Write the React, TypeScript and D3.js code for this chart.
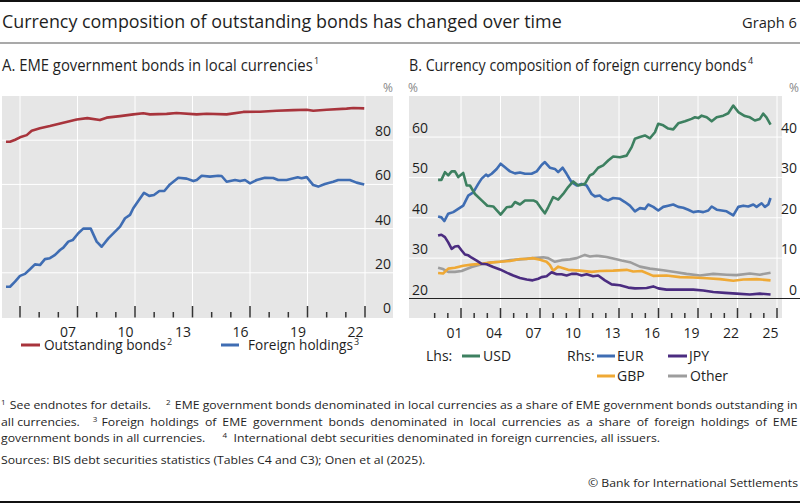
import React, { useLayoutEffect, useRef, useState } from 'react';
import * as d3 from 'd3';

const FONT = "'Open Sans', 'Noto Sans', sans-serif";

// ---------- Panel A data (year, %) ----------
const outstandingBonds: [number, number][] = [
  [2004.27, 79.3], [2004.48, 79.3], [2004.75, 80.2], [2005.0, 81.3], [2005.35, 82.3], [2005.61, 84.3],
  [2006.04, 85.4], [2006.56, 86.4], [2007.26, 87.9], [2007.96, 89.4], [2008.51, 90.0], [2009.17, 89.1],
  [2009.52, 90.2], [2010.22, 90.9], [2010.91, 91.7], [2011.43, 92.2], [2011.78, 91.7], [2012.65, 91.9],
  [2013.17, 92.3], [2014.22, 91.7], [2014.74, 92.0], [2015.78, 91.7], [2016.65, 92.8], [2017.52, 92.9],
  [2018.39, 93.3], [2019.26, 93.6], [2019.96, 93.8], [2020.30, 93.3], [2021.0, 93.8], [2022.04, 94.3],
  [2022.39, 94.6], [2022.96, 94.4],
];
const foreignHoldings: [number, number][] = [
  [2004.27, 13.7], [2004.48, 13.7], [2004.74, 16.0], [2005.0, 18.6], [2005.26, 19.5], [2005.52, 21.6],
  [2005.78, 23.8], [2006.04, 23.5], [2006.30, 26.2], [2006.56, 26.6], [2006.83, 28.1], [2007.09, 30.3],
  [2007.26, 31.4], [2007.52, 34.1], [2007.75, 34.8], [2008.04, 37.9], [2008.30, 40.0], [2008.69, 40.0],
  [2009.0, 34.1], [2009.26, 31.8], [2009.61, 35.6], [2009.96, 38.6], [2010.22, 40.9], [2010.48, 44.7],
  [2010.74, 46.2], [2010.91, 49.2], [2011.17, 52.5], [2011.47, 56.2], [2011.74, 54.8], [2011.99, 55.2],
  [2012.27, 57.0], [2012.53, 57.0], [2012.82, 60.0], [2013.26, 63.0], [2013.70, 62.6], [2014.04, 61.5],
  [2014.22, 62.0], [2014.48, 63.9], [2014.91, 63.5], [2015.34, 63.9], [2015.52, 63.8], [2015.78, 61.2],
  [2016.22, 62.0], [2016.48, 61.5], [2016.74, 62.0], [2017.0, 60.5], [2017.35, 62.0], [2017.78, 63.0],
  [2018.21, 62.9], [2018.47, 62.0], [2018.91, 62.0], [2019.49, 63.2], [2019.69, 62.8], [2019.96, 63.3],
  [2020.30, 59.7], [2020.56, 59.0], [2020.91, 60.2], [2021.34, 61.2], [2021.60, 62.0], [2022.21, 62.0],
  [2022.56, 60.8], [2022.96, 60.0],
];
const yTicksA = [0, 20, 40, 60, 80];
const xLabelsA = ['07', '10', '13', '16', '19', '22'];

// ---------- Panel B data (year, %) ----------
const usd: [number, number][] = [
  [2000.26, 49.4], [2000.51, 49.4], [2000.78, 51.3], [2001.03, 50.5], [2001.29, 51.5], [2001.54, 51.5],
  [2001.79, 50.1], [2002.17, 51.1], [2002.43, 48.0], [2002.68, 48.0], [2003.06, 45.9], [2003.57, 44.3],
  [2004.0, 43.0], [2004.45, 42.8], [2005.01, 40.8], [2005.47, 42.6], [2005.85, 42.8], [2006.10, 43.9],
  [2006.48, 43.3], [2006.86, 44.3], [2007.49, 44.3], [2007.75, 43.9], [2008.12, 42.2], [2008.37, 41.1],
  [2008.62, 42.6], [2009.0, 45.1], [2009.38, 44.5], [2009.76, 45.9], [2010.14, 47.6], [2010.52, 49.0],
  [2010.90, 48.0], [2011.41, 48.4], [2011.79, 50.5], [2012.04, 50.9], [2012.42, 52.4], [2012.80, 53.0],
  [2013.18, 54.2], [2013.56, 55.2], [2014.07, 55.0], [2014.58, 55.4], [2014.96, 57.5], [2015.21, 59.6],
  [2015.59, 60.0], [2015.97, 60.4], [2016.35, 59.7], [2016.73, 61.2], [2016.98, 63.3], [2017.36, 62.9],
  [2017.74, 62.1], [2018.12, 61.9], [2018.50, 63.4], [2019.01, 63.9], [2019.51, 64.5], [2019.77, 64.9],
  [2020.02, 64.7], [2020.28, 65.3], [2020.66, 64.9], [2021.04, 63.9], [2021.42, 64.9], [2021.92, 65.3],
  [2022.30, 65.9], [2022.68, 67.8], [2023.06, 66.2], [2023.56, 65.2], [2023.94, 64.9], [2024.32, 64.1],
  [2024.70, 64.5], [2024.95, 65.8], [2025.20, 64.9], [2025.51, 63.1],
];
const eur: [number, number][] = [
  [2000.26, 20.3], [2000.51, 20.1], [2000.73, 19.2], [2001.03, 21.0], [2001.41, 21.4], [2001.79, 22.2],
  [2002.17, 23.0], [2002.55, 25.5], [2002.93, 26.3], [2003.31, 28.4], [2003.57, 29.7], [2003.90, 30.7],
  [2004.05, 30.3], [2004.33, 30.9], [2004.71, 32.1], [2005.01, 33.4], [2005.34, 32.5], [2005.72, 31.5],
  [2006.10, 31.0], [2006.48, 31.2], [2006.86, 30.9], [2007.36, 30.9], [2007.75, 31.5], [2008.12, 33.1],
  [2008.37, 33.8], [2008.75, 32.4], [2009.13, 32.1], [2009.38, 31.3], [2009.72, 32.4], [2010.02, 30.9],
  [2010.40, 28.8], [2010.78, 28.0], [2011.16, 28.4], [2011.54, 28.0], [2011.92, 25.9], [2012.17, 25.3],
  [2012.55, 25.5], [2012.80, 24.7], [2013.18, 24.3], [2013.56, 24.9], [2014.07, 24.7], [2014.45, 23.9],
  [2014.83, 23.0], [2015.21, 21.6], [2015.59, 22.4], [2015.97, 22.2], [2016.22, 23.3], [2016.60, 22.7],
  [2016.98, 21.8], [2017.36, 22.7], [2017.74, 23.0], [2018.12, 23.3], [2018.50, 22.7], [2018.88, 22.5],
  [2019.26, 22.0], [2019.64, 21.4], [2020.02, 21.6], [2020.40, 21.4], [2020.78, 21.8], [2021.04, 22.8],
  [2021.42, 22.0], [2021.80, 21.8], [2022.17, 21.6], [2022.68, 20.6], [2023.06, 22.7], [2023.44, 23.0],
  [2023.82, 22.8], [2024.20, 23.3], [2024.45, 22.7], [2024.83, 23.6], [2025.08, 22.7], [2025.34, 23.3],
  [2025.51, 24.9],
];
const jpy: [number, number][] = [
  [2000.26, 15.6], [2000.51, 15.8], [2000.78, 15.2], [2001.03, 13.9], [2001.29, 12.3], [2001.54, 12.9],
  [2001.79, 13.0], [2002.05, 11.9], [2002.30, 10.9], [2002.55, 10.7], [2002.81, 10.1], [2003.19, 9.4],
  [2003.57, 8.6], [2003.95, 8.5], [2004.45, 7.8], [2004.96, 7.2], [2005.47, 6.4], [2005.97, 5.7],
  [2006.48, 5.1], [2006.99, 4.7], [2007.44, 4.5], [2007.87, 4.9], [2008.12, 5.3], [2008.50, 5.5],
  [2008.88, 6.5], [2009.26, 6.0], [2009.64, 6.0], [2010.02, 5.7], [2010.40, 6.1], [2010.78, 6.1],
  [2011.16, 5.7], [2011.54, 6.0], [2012.04, 5.5], [2012.42, 5.7], [2012.93, 4.5], [2013.44, 3.5],
  [2014.07, 3.3], [2014.70, 2.7], [2015.21, 2.5], [2016.10, 2.6], [2016.60, 3.0], [2016.98, 2.5],
  [2017.61, 2.2], [2018.88, 2.2], [2019.64, 2.2], [2020.40, 2.0], [2021.16, 1.6], [2022.05, 1.4],
  [2022.93, 1.2], [2023.94, 1.0], [2024.70, 1.2], [2025.51, 1.0],
];
const gbp: [number, number][] = [
  [2000.26, 6.3], [2000.64, 6.2], [2001.03, 7.4], [2001.54, 7.6], [2002.17, 8.1], [2002.81, 8.4],
  [2003.57, 8.6], [2004.2, 8.9], [2004.96, 9.1], [2005.72, 9.3], [2006.48, 9.8], [2006.95, 9.8],
  [2007.44, 10.0], [2008.0, 9.6], [2008.50, 9.1], [2008.75, 8.3], [2009.0, 6.9], [2009.38, 7.9],
  [2009.76, 7.5], [2010.14, 7.1], [2011.03, 6.9], [2011.92, 6.6], [2012.55, 6.8], [2013.56, 6.9],
  [2014.58, 7.1], [2015.08, 6.7], [2015.72, 6.8], [2016.60, 5.6], [2017.61, 5.7], [2018.63, 5.3],
  [2019.64, 5.2], [2020.66, 5.0], [2021.67, 4.8], [2022.68, 4.4], [2023.44, 4.7], [2024.45, 4.8],
  [2025.51, 4.5],
];
const other: [number, number][] = [
  [2000.26, 7.6], [2000.64, 7.3], [2001.03, 6.6], [2001.54, 6.6], [2002.05, 6.8], [2002.81, 7.8],
  [2003.57, 8.5], [2004.33, 9.0], [2004.96, 9.1], [2005.72, 9.5], [2006.48, 9.7], [2007.49, 10.0],
  [2008.25, 10.2], [2008.62, 10.0], [2009.13, 9.1], [2009.64, 9.5], [2010.27, 9.7], [2010.78, 10.0],
  [2011.41, 10.8], [2011.79, 10.4], [2012.30, 10.6], [2012.55, 10.5], [2013.06, 10.3], [2013.56, 9.9],
  [2014.20, 9.4], [2014.83, 9.0], [2015.59, 7.9], [2016.35, 7.4], [2017.36, 7.0], [2018.37, 6.5],
  [2019.13, 6.1], [2020.15, 5.7], [2021.16, 6.1], [2022.17, 5.9], [2022.93, 5.8], [2023.94, 6.2],
  [2024.70, 5.9], [2025.51, 6.4],
];
const yTicksBLeft = [20, 30, 40, 50, 60];
const yTicksBRight = [0, 10, 20, 30, 40];
const xLabelsB = ['01', '04', '07', '10', '13', '16', '19', '22', '25'];

// ---------- Footnote texts ----------
type Seg = { t: string; sup?: boolean; gap?: number };
const footLines: Seg[][] = [
  [
    { t: '1', sup: true },
    { t: 'See endnotes for details.', gap: 4 },
    { t: '2', sup: true, gap: 14 },
    { t: 'EME government bonds denominated in local currencies as a share of EME government bonds outstanding in', gap: 4 },
  ],
  [
    { t: 'all currencies.' },
    { t: '3', sup: true, gap: 12 },
    { t: 'Foreign holdings of EME government bonds denominated in local currencies as a share of foreign holdings of EME', gap: 4 },
  ],
  [
    { t: 'government bonds in all currencies.' },
    { t: '4', sup: true, gap: 16 },
    { t: 'International debt securities denominated in foreign currencies, all issuers.', gap: 6 },
  ],
  [{ t: 'Sources: BIS debt securities statistics (Tables C4 and C3); Onen et al (2025).' }],
];
const footY = [409, 426, 442, 464];
const copyright = '© Bank for International Settlements';

const C = {
  red: '#a8343c',
  blue: '#3f6db3',
  green: '#3d8060',
  purple: '#4b2c80',
  orange: '#efa935',
  gray: '#9d9d9d',
  bg: '#e6e6e6',
  text: '#1e1e1e',
};

const yearOf = (lbl: string) => 2000 + parseInt(lbl, 10);

// Text scaled horizontally (measured) to fill a given width
function FitText({ x, y, w, size, children }: { x: number; y: number; w: number; size: number; children: string }) {
  const ref = useRef<SVGTextElement>(null);
  const [s, setS] = useState(1);
  useLayoutEffect(() => {
    if (ref.current) {
      const n = ref.current.getComputedTextLength();
      if (n > 0) setS(w / n);
    }
  }, [w, children]);
  return (
    <g transform={`translate(${x},${y}) scale(${s},1)`}>
      <text ref={ref} x={0} y={0} fontSize={size} fill={C.text}>{children}</text>
    </g>
  );
}

function Footnotes() {
  const refs = useRef<(SVGTextElement | null)[][]>(footLines.map((l) => l.map(() => null)));
  const [widths, setWidths] = useState<number[][] | null>(null);
  useLayoutEffect(() => {
    setWidths(refs.current.map((l) => l.map((el) => (el ? el.getComputedTextLength() : 0))));
  }, []);
  const size = 11.5;
  const supSize = 7.5;
  const target = 797;
  let scale = 1;
  const layouts: { x: number[]; total: number }[] = footLines.map((line, li) => {
    let x = 0;
    const xs: number[] = [];
    line.forEach((seg, si) => {
      x += seg.gap || 0;
      xs.push(x);
      x += widths ? widths[li][si] : 0;
    });
    return { x: xs, total: x };
  });
  if (widths && layouts[0].total > 0) scale = target / layouts[0].total;
  // justify line 2 using word spacing
  let ws = 0;
  if (widths) {
    const last = footLines[1][footLines[1].length - 1].t;
    const nSp = (last.match(/ /g) || []).length;
    ws = (target / scale - layouts[1].total) / nSp;
  }
  return (
    <>
      {footLines.map((line, li) => (
        <g key={'fl' + li} transform={`translate(1,${footY[li]}) scale(${scale},1)`}>
          {line.map((seg, si) => (
            <text
              key={si}
              ref={(el) => { refs.current[li][si] = el; }}
              x={layouts[li].x[si]}
              y={seg.sup ? -4 : 0}
              fontSize={seg.sup ? supSize : size}
              fill={C.text}
              wordSpacing={li === 1 && si === line.length - 1 && widths ? ws : undefined}
            >
              {seg.t}
            </text>
          ))}
        </g>
      ))}
      <g transform={`translate(798,487) scale(${scale},1)`}>
        <text x={0} y={0} fontSize={size} fill={C.text} textAnchor="end">{copyright}</text>
      </g>
    </>
  );
}

export default function App() {
  // Panel A scales
  const xA = d3.scaleLinear().domain([2005, 2023]).range([20, 365]);
  const yA = d3.scaleLinear().domain([0, 100]).range([317, 96]);
  // Panel B scales
  const xB = d3.scaleLinear().domain([2002, 2026]).range([461, 777]);
  const yBL = d3.scaleLinear().domain([20, 70]).range([298.5, 96.7]);
  const yBR = d3.scaleLinear().domain([0, 50]).range([298.5, 96.7]);

  const lineA = d3.line<[number, number]>().x((d) => xA(d[0])).y((d) => yA(d[1]));
  const lineBL = d3.line<[number, number]>().x((d) => xB(d[0])).y((d) => yBL(d[1]));
  const lineBR = d3.line<[number, number]>().x((d) => xB(d[0])).y((d) => yBR(d[1]));

  const yearsA = d3.range(2005, 2024);
  const yearsB = d3.range(2000, 2027);

  const lw = 2.6;
  const sup = (s: string, x: number, y: number, size = 9) => (
    <text x={x} y={y} fontSize={size} fill={C.text}>{s}</text>
  );

  return (
    <div style={{ position: 'absolute', left: 0, top: 0 }}>
      <svg width={800} height={503} style={{ display: 'block', fontFamily: FONT }}>
        <rect x={0} y={0} width={800} height={503} fill="#fff" />
        {/* top rule */}
        <line x1={0} x2={800} y1={1} y2={1} stroke="#111" strokeWidth={2} />
        <FitText x={2} y={28} w={560} size={18.5}>Currency composition of outstanding bonds has changed over time</FitText>
        <FitText x={742} y={28} w={55} size={15}>Graph 6</FitText>
        <line x1={0} x2={800} y1={43} y2={43} stroke="#555" strokeWidth={1.2} />

        {/* ---------------- Panel A ---------------- */}
        <FitText x={2} y={71} w={311} size={15.5}>A. EME government bonds in local currencies</FitText>
        {sup('1', 314, 64, 9)}
        <text x={388} y={92} fontSize={12} fill="#888" textAnchor="middle">%</text>
        <rect x={2} y={96} width={391} height={222} fill={C.bg} />
        {yTicksA.filter((v) => v > 0).map((v) => (
          <line key={'ga' + v} x1={2} x2={393} y1={yA(v)} y2={yA(v)} stroke="#fff" strokeWidth={1} />
        ))}
        {yearsA.filter((y) => (y - 2005) % 3 === 0).map((y) => (
          <line key={'gva' + y} x1={xA(y)} x2={xA(y)} y1={96} y2={318} stroke="#fff" strokeWidth={1} />
        ))}
        {yearsA.map((y) => {
          const major = (y - 2005) % 3 === 0;
          return (
            <line key={'ta' + y} x1={xA(y)} x2={xA(y)} y1={major ? 306 : 312} y2={317.5} stroke="#333" strokeWidth={1.5} />
          );
        })}
        {yTicksA.map((v) => (
          <text key={'la' + v} x={391} y={yA(v) - 4} fontSize={14} fill={C.text} textAnchor="end">{v}</text>
        ))}
        {xLabelsA.map((l) => (
          <text key={'xa' + l} x={xA(yearOf(l) + 0.5)} y={337} fontSize={14} fill={C.text} textAnchor="middle">{l}</text>
        ))}
        <path d={lineA(outstandingBonds) || ''} fill="none" stroke={C.red} strokeWidth={lw} strokeLinejoin="round" />
        <path d={lineA(foreignHoldings) || ''} fill="none" stroke={C.blue} strokeWidth={lw} strokeLinejoin="round" />

        {/* Legend A */}
        <line x1={21} x2={40} y1={345} y2={345} stroke={C.red} strokeWidth={3} />
        <FitText x={44} y={350} w={122} size={14}>Outstanding bonds</FitText>
        {sup('2', 167, 345, 9)}
        <line x1={221} x2={239} y1={345} y2={345} stroke={C.blue} strokeWidth={3} />
        <FitText x={248} y={350} w={105} size={14}>Foreign holdings</FitText>
        {sup('3', 354, 345, 9)}

        {/* ---------------- Panel B ---------------- */}
        <FitText x={409} y={71} w={338} size={15.5}>B. Currency composition of foreign currency bonds</FitText>
        {sup('4', 748, 64, 9)}
        <text x={413} y={92} fontSize={12} fill="#888" textAnchor="middle">%</text>
        <text x={794} y={92} fontSize={12} fill="#888" textAnchor="middle">%</text>
        <rect x={409} y={96} width={373} height={222} fill={C.bg} />
        {yTicksBLeft.filter((v) => v > 20).map((v) => (
          <line key={'gb' + v} x1={409} x2={782} y1={yBL(v)} y2={yBL(v)} stroke="#fff" strokeWidth={1} />
        ))}
        {yearsB.filter((y) => (y - 2002) % 3 === 0).map((y) => (
          <line key={'gvb' + y} x1={xB(y)} x2={xB(y)} y1={96} y2={318} stroke="#fff" strokeWidth={1} />
        ))}
        <line x1={409} x2={800} y1={yBL(20)} y2={yBL(20)} stroke="#222" strokeWidth={1.2} />
        {yearsB.map((y) => {
          const major = (y - 2002) % 3 === 0;
          return (
            <line key={'tb' + y} x1={xB(y)} x2={xB(y)} y1={major ? 308 : 313} y2={318} stroke="#333" strokeWidth={1.5} />
          );
        })}
        {yTicksBLeft.map((v) => (
          <text key={'lbl' + v} x={412} y={yBL(v) - 4} fontSize={14} fill={C.text}>{v}</text>
        ))}
        {yTicksBRight.map((v) => (
          <text key={'lbr' + v} x={797} y={yBR(v) - 4} fontSize={14} fill={C.text} textAnchor="end">{v}</text>
        ))}
        {xLabelsB.map((l) => (
          <text key={'xb' + l} x={xB(yearOf(l) + 0.5)} y={338} fontSize={14} fill={C.text} textAnchor="middle">{l}</text>
        ))}
        <path d={lineBR(other) || ''} fill="none" stroke={C.gray} strokeWidth={lw} strokeLinejoin="round" />
        <path d={lineBR(gbp) || ''} fill="none" stroke={C.orange} strokeWidth={lw} strokeLinejoin="round" />
        <path d={lineBR(jpy) || ''} fill="none" stroke={C.purple} strokeWidth={lw} strokeLinejoin="round" />
        <path d={lineBR(eur) || ''} fill="none" stroke={C.blue} strokeWidth={lw} strokeLinejoin="round" />
        <path d={lineBL(usd) || ''} fill="none" stroke={C.green} strokeWidth={lw} strokeLinejoin="round" />

        {/* Legend B */}
        <text x={426} y={361} fontSize={14} fill={C.text}>Lhs:</text>
        <line x1={462} x2={480} y1={356} y2={356} stroke={C.green} strokeWidth={3} />
        <text x={483} y={361} fontSize={14} fill={C.text}>USD</text>
        <text x={567} y={361} fontSize={14} fill={C.text}>Rhs:</text>
        <line x1={597} x2={615} y1={356} y2={356} stroke={C.blue} strokeWidth={3} />
        <text x={617} y={361} fontSize={14} fill={C.text}>EUR</text>
        <line x1={668} x2={687} y1={356} y2={356} stroke={C.purple} strokeWidth={3} />
        <text x={689} y={361} fontSize={14} fill={C.text}>JPY</text>
        <line x1={597} x2={615} y1={376} y2={376} stroke={C.orange} strokeWidth={3} />
        <text x={617} y={381} fontSize={14} fill={C.text}>GBP</text>
        <line x1={668} x2={687} y1={376} y2={376} stroke={C.gray} strokeWidth={3} />
        <text x={690} y={381} fontSize={14} fill={C.text}>Other</text>

        {/* ---------------- Footnotes ---------------- */}
        <Footnotes />
        <line x1={0} x2={800} y1={502} y2={502} stroke="#111" strokeWidth={2} />
      </svg>
    </div>
  );
}
